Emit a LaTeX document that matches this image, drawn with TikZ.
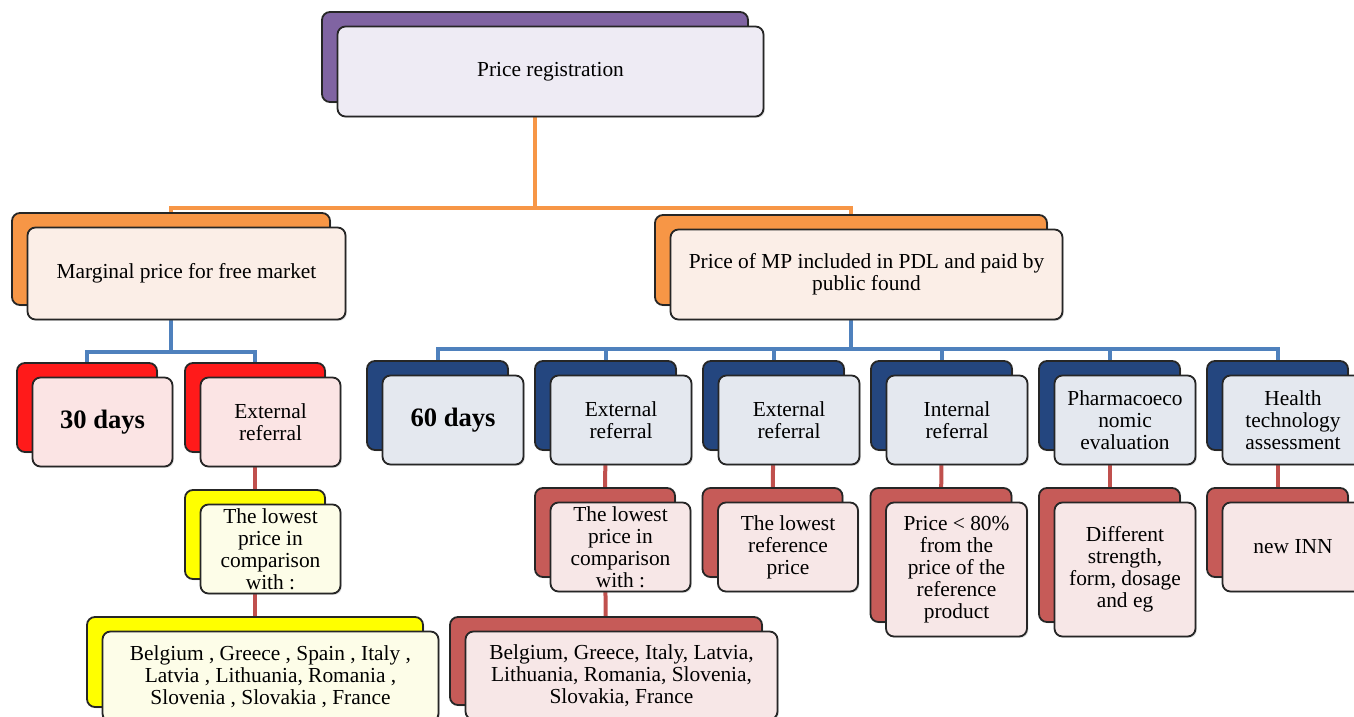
\documentclass[tikz,border=0pt]{standalone}
\usepackage{fontspec}
\setmainfont{Liberation Serif}
\usetikzlibrary{shadows,backgrounds}

\definecolor{purpleback}{HTML}{8064A2}
\definecolor{purplefront}{HTML}{EEEBF4}
\definecolor{orangeback}{HTML}{F79646}
\definecolor{orangefront}{HTML}{FBEEE7}
\definecolor{redback}{HTML}{FF1A1A}
\definecolor{redfront}{HTML}{FBE4E4}
\definecolor{navyback}{HTML}{24467F}
\definecolor{navyfront}{HTML}{E4E8EF}
\definecolor{yellowback}{HTML}{FFFF00}
\definecolor{yellowfront}{HTML}{FDFDE8}
\definecolor{roseback}{HTML}{C65B58}
\definecolor{rosefront}{HTML}{F7E7E7}
\definecolor{orangeline}{HTML}{F79646}
\definecolor{blueline}{HTML}{4F81BD}
\definecolor{redline}{HTML}{C0504D}

\tikzset{
  back/.style={draw=black!85, line width=0.9pt, rounded corners=4pt, fill=#1,
    inner sep=0pt,
    drop shadow={shadow xshift=0.7pt, shadow yshift=-0.7pt, opacity=0.25}},
  front/.style={draw=black!85, line width=0.9pt, rounded corners=4pt, fill=#1,
    inner sep=1pt, align=center, font=\fontsize{10.7}{11}\selectfont,
    drop shadow={shadow xshift=0.7pt, shadow yshift=-0.7pt, opacity=0.25}},
  big/.style={font=\bfseries\fontsize{13.3}{15}\selectfont},
  link/.style={line width=2pt, draw=#1},
}

\begin{document}
\begin{tikzpicture}[x=0.5pt, y=-0.5pt]
    \def\u{0.5pt}
    \def\dx{15.5}
    \def\dy{14.5}
    \clip (0,0) rectangle (1354,717);
    \useasboundingbox (0,0) rectangle (1354,717);
    % top
    \node[back=purpleback, minimum width=426*\u, minimum height=90*\u] (B0) at (535,57) {};
    \node[front=purplefront, minimum width=426*\u, minimum height=90*\u] (A0) at ([shift={(\dx,\dy)}]B0) {Price registration};
    % second row
    \node[back=orangeback, minimum width=318*\u, minimum height=92*\u] (B1_0) at (171,259) {};
    \node[front=orangefront, minimum width=318*\u, minimum height=92*\u] (A1_0) at ([shift={(\dx,\dy)}]B1_0) {Marginal price for free market};
    \node[back=orangeback, minimum width=392*\u, minimum height=90*\u] (B1_1) at (851,260) {};
    \node[front=orangefront, minimum width=392*\u, minimum height=90*\u] (A1_1) at ([shift={(\dx,\dy)}]B1_1) {Price of MP included in PDL and paid by\\public found};
    % third row, left
    \node[back=redback, minimum width=140*\u, minimum height=89*\u] (B2_0) at (87,407.5) {};
    \node[front=redfront, big, minimum width=140*\u, minimum height=89*\u] (A2_0) at ([shift={(\dx,\dy)}]B2_0) {30 days};
    \node[back=redback, minimum width=140*\u, minimum height=89*\u] (B2_1) at (255,407.5) {};
    \node[front=redfront, minimum width=140*\u, minimum height=89*\u] (A2_1) at ([shift={(\dx,\dy)}]B2_1) {External\\referral};
    % third row, right
    \node[back=navyback, minimum width=141*\u, minimum height=89*\u] (B3_0) at (437.5,405.5) {};
    \node[front=navyfront, big, minimum width=141*\u, minimum height=89*\u] (A3_0) at ([shift={(\dx,\dy)}]B3_0) {60 days};
    \node[back=navyback, minimum width=141*\u, minimum height=89*\u] (B3_1) at (605.5,405.5) {};
    \node[front=navyfront, minimum width=141*\u, minimum height=89*\u] (A3_1) at ([shift={(\dx,\dy)}]B3_1) {External\\referral};
    \node[back=navyback, minimum width=141*\u, minimum height=89*\u] (B3_2) at (773.5,405.5) {};
    \node[front=navyfront, minimum width=141*\u, minimum height=89*\u] (A3_2) at ([shift={(\dx,\dy)}]B3_2) {External\\referral};
    \node[back=navyback, minimum width=141*\u, minimum height=89*\u] (B3_3) at (941.5,405.5) {};
    \node[front=navyfront, minimum width=141*\u, minimum height=89*\u] (A3_3) at ([shift={(\dx,\dy)}]B3_3) {Internal\\referral};
    \node[back=navyback, minimum width=141*\u, minimum height=89*\u] (B3_4) at (1109.5,405.5) {};
    \node[front=navyfront, minimum width=141*\u, minimum height=89*\u] (A3_4) at ([shift={(\dx,\dy)}]B3_4) {Pharmacoeco\\nomic\\evaluation};
    \node[back=navyback, minimum width=141*\u, minimum height=89*\u] (B3_5) at (1277.5,405.5) {};
    \node[front=navyfront, minimum width=141*\u, minimum height=89*\u] (A3_5) at ([shift={(\dx,\dy)}]B3_5) {Health\\technology\\assessment};
    % fourth row
    \node[back=yellowback, minimum width=140*\u, minimum height=89*\u] (B4_0) at (255,534.5) {};
    \node[front=yellowfront, minimum width=140*\u, minimum height=89*\u] (A4_0) at ([shift={(\dx,\dy)}]B4_0) {The lowest\\price in\\comparison\\with :};
    \node[back=roseback, minimum width=140*\u, minimum height=89*\u] (B4_1) at (605,532.5) {};
    \node[front=rosefront, minimum width=140*\u, minimum height=89*\u] (A4_1) at ([shift={(\dx,\dy)}]B4_1) {The lowest\\price in\\comparison\\with :};
    \node[back=roseback, minimum width=140*\u, minimum height=89*\u] (B4_2) at (772.5,532.5) {};
    \node[front=rosefront, minimum width=140*\u, minimum height=89*\u] (A4_2) at ([shift={(\dx,\dy)}]B4_2) {The lowest\\reference\\price};
    \node[back=roseback, minimum width=141*\u, minimum height=134*\u] (B4_3) at (941,555) {};
    \node[front=rosefront, minimum width=141*\u, minimum height=134*\u] (A4_3) at ([shift={(\dx,\dy)}]B4_3) {Price < 80\%\\from the\\price of the\\reference\\product};
    \node[back=roseback, minimum width=141*\u, minimum height=134*\u] (B4_4) at (1109.5,555) {};
    \node[front=rosefront, minimum width=141*\u, minimum height=134*\u] (A4_4) at ([shift={(\dx,\dy)}]B4_4) {Different\\strength,\\form, dosage\\and eg};
    \node[back=roseback, minimum width=141*\u, minimum height=89*\u] (B4_5) at (1277.5,532.5) {};
    \node[front=rosefront, minimum width=141*\u, minimum height=89*\u] (A4_5) at ([shift={(\dx,\dy)}]B4_5) {new INN};
    % fifth row
    \node[back=yellowback, minimum width=336*\u, minimum height=90*\u] (B5_0) at (255,662) {};
    \node[front=yellowfront, minimum width=336*\u, minimum height=90*\u] (A5_0) at ([shift={(\dx,\dy)}]B5_0) {Belgium , Greece , Spain , Italy ,\\Latvia , Lithuania, Romania ,\\Slovenia , Slovakia , France};
    \node[back=roseback, minimum width=312*\u, minimum height=88*\u] (B5_1) at (606,661) {};
    \node[front=rosefront, minimum width=312*\u, minimum height=88*\u] (A5_1) at ([shift={(\dx,\dy)}]B5_1) {Belgium, Greece, Italy, Latvia,\\Lithuania, Romania, Slovenia,\\Slovakia, France};
    % connectors
    \begin{pgfonlayer}{background}
      \coordinate (bus0) at (0,208);
      \coordinate (bus1) at (0,352);
      \coordinate (bus2) at (0,349);
      \draw[link=orangeline] (B0) -- (B0 |- bus0) -| (B1_0);
      \draw[link=orangeline] (B0 |- bus0) -| (B1_1);
      \draw[link=blueline] (B1_0) -- (B1_0 |- bus1) -| (B2_0);
      \draw[link=blueline] (B1_0 |- bus1) -| (B2_1);
      \draw[link=blueline] (B1_1) -- (B1_1 |- bus2) -| (B3_0);
      \draw[link=blueline] (B1_1 |- bus2) -| (B3_1);
      \draw[link=blueline] (B1_1 |- bus2) -| (B3_2);
      \draw[link=blueline] (B1_1 |- bus2) -| (B3_3);
      \draw[link=blueline] (B1_1 |- bus2) -| (B3_4);
      \draw[link=blueline] (B1_1 |- bus2) -| (B3_5);
      \draw[link=redline] (B2_1.center) -- (B4_0.center);
      \draw[link=redline] (B4_0.center) -- (B5_0.center);
      \draw[link=redline] (B3_1.center) -- (B4_1.center);
      \draw[link=redline] (B4_1.center) -- (B5_1.center);
      \draw[link=redline] (B3_2.center) -- (B4_2.center);
      \draw[link=redline] (B3_3.center) -- (B4_3.center);
      \draw[link=redline] (B3_4.center) -- (B4_4.center);
      \draw[link=redline] (B3_5.center) -- (B4_5.center);
    \end{pgfonlayer}
  \end{tikzpicture}
\end{document}
